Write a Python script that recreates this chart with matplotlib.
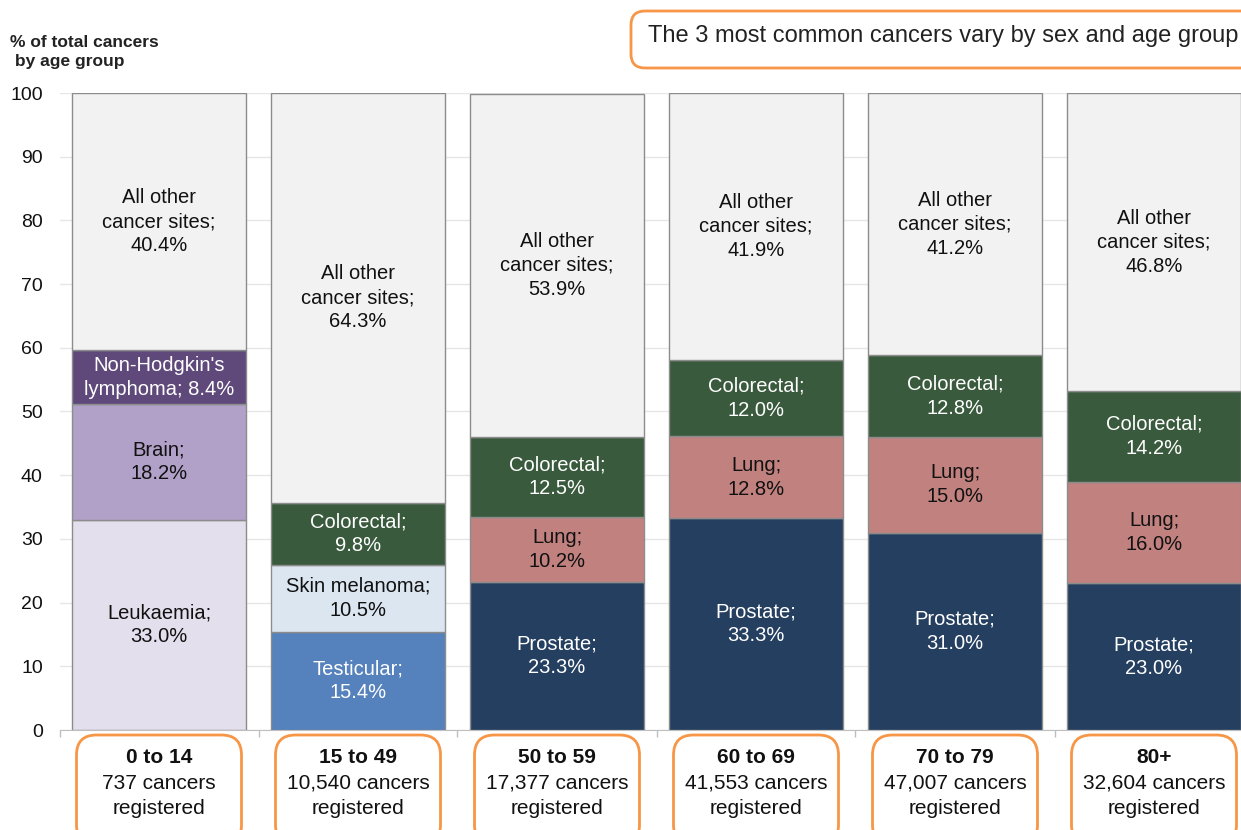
import matplotlib
matplotlib.use("Agg")
import matplotlib.pyplot as plt
from matplotlib.patches import FancyBboxPatch
import matplotlib.transforms as mtransforms
import numpy as np

plt.rcParams['font.family'] = ['Liberation Sans', 'DejaVu Sans']

age_groups = ["0 to 14", "15 to 49", "50 to 59", "60 to 69", "70 to 79", "80+"]
registered = ["737", "10,540", "17,377", "41,553", "47,007", "32,604"]

# segments per group, bottom to top: (site, value)
seg1_names = ["Leukaemia", "Testicular", "Prostate", "Prostate", "Prostate", "Prostate"]
seg1_vals = [33.0, 15.4, 23.3, 33.3, 31.0, 23.0]
seg2_names = ["Brain", "Skin melanoma", "Lung", "Lung", "Lung", "Lung"]
seg2_vals = [18.2, 10.5, 10.2, 12.8, 15.0, 16.0]
seg3_names = ["Non-Hodgkin's lymphoma", "Colorectal", "Colorectal", "Colorectal", "Colorectal", "Colorectal"]
seg3_vals = [8.4, 9.8, 12.5, 12.0, 12.8, 14.2]
other_vals = [40.4, 64.3, 53.9, 41.9, 41.2, 46.8]

site_colors = {
    "Leukaemia": "#E4DFEC", "Brain": "#B1A0C7", "Non-Hodgkin's lymphoma": "#5F497A",
    "Testicular": "#5581BD", "Skin melanoma": "#DCE6F1", "Colorectal": "#3A5A3D",
    "Lung": "#C0817F", "Prostate": "#253F60", "All other cancer sites": "#F2F2F2",
}
white_text = {"Non-Hodgkin's lymphoma", "Testicular", "Colorectal", "Prostate"}
label_fmt = {
    "Leukaemia": "Leukaemia;\n{:.1f}%", "Brain": "Brain;\n{:.1f}%",
    "Non-Hodgkin's lymphoma": "Non-Hodgkin's\nlymphoma; {:.1f}%",
    "Testicular": "Testicular;\n{:.1f}%", "Skin melanoma": "Skin melanoma;\n{:.1f}%",
    "Colorectal": "Colorectal;\n{:.1f}%", "Lung": "Lung;\n{:.1f}%",
    "Prostate": "Prostate;\n{:.1f}%", "All other cancer sites": "All other\ncancer sites;\n{:.1f}%",
}

W, H = 1241, 830
fig = plt.figure(figsize=(W / 100, H / 100), dpi=100)
ax = fig.add_axes([59.5 / W, (H - 730) / H, (W - 59.5) / W, 637 / H])

x = np.arange(len(age_groups))
bw = 0.87
bottom = np.zeros(len(x))
layers = [(seg1_names, seg1_vals), (seg2_names, seg2_vals), (seg3_names, seg3_vals),
          (["All other cancer sites"] * 6, other_vals)]
for names, vals in layers:
    for i, (n, v) in enumerate(zip(names, vals)):
        ax.bar(x[i], v, bw, bottom=bottom[i], color=site_colors[n],
               edgecolor="#8C8C8C", linewidth=1.0, zorder=3)
        ax.text(x[i], bottom[i] + v / 2, label_fmt[n].format(v), ha="center", va="center",
                fontsize=14.5, color="white" if n in white_text else "#111111",
                linespacing=1.33, zorder=4)
    bottom += np.array(vals)

ax.set_yticks(np.arange(0, 101, 10))
ax.tick_params(axis="y", length=0, labelsize=14, pad=12, colors="#111111")
ax.set_xticks(np.arange(-0.5, 6, 1))
ax.set_xticklabels([])
ax.tick_params(axis="x", length=5, color="#BFBFBF", width=1)
ax.set_xlim(-0.5, -0.5 + (W - 59.5) / 199)
ax.set_ylim(0, 100)
ax.yaxis.grid(True, color="#E6E6E6", linewidth=1, zorder=0)
for s in ["top", "right", "left"]:
    ax.spines[s].set_visible(False)
ax.spines["bottom"].set_color("#BFBFBF")

# y label
fig.text(10 / W, 1 - 52 / H, "% of total cancers\n by age group", fontsize=12.5,
         fontweight="bold", ha="left", va="center", color="#222222", linespacing=1.35)

# title box
orange = "#F79646"
tb = FancyBboxPatch((631, H - 68), 640, 57,
                    boxstyle="round,pad=0,rounding_size=14",
                    transform=mtransforms.IdentityTransform(),
                    facecolor="none", edgecolor=orange, linewidth=2)
fig.add_artist(tb)
fig.text(648 / W, 1 - 36 / H, "The 3 most common cancers vary by sex and age group",
         fontsize=17, ha="left", va="center", color="#222222", zorder=5)

# category boxes below (positioned from data x via the axes transform)
trans = mtransforms.blended_transform_factory(ax.transData, ax.transAxes)
for i, (g, r) in enumerate(zip(age_groups, registered)):
    cx = ax.transData.transform((x[i], 0))[0]
    bx = FancyBboxPatch((cx - 82.5, H - 845), 165, 110,
                        boxstyle="round,pad=0,rounding_size=20",
                        transform=mtransforms.IdentityTransform(),
                        facecolor="none", edgecolor=orange, linewidth=2)
    fig.add_artist(bx)
    ax.text(x[i], -27 / 637, g, transform=trans, ha="center", va="center",
            fontsize=15, fontweight="bold", color="#111111")
    ax.text(x[i], -66 / 637, f"{r} cancers\nregistered", transform=trans, ha="center",
            va="center", fontsize=15, color="#111111", linespacing=1.42)

fig.savefig("out.png", dpi=100)
